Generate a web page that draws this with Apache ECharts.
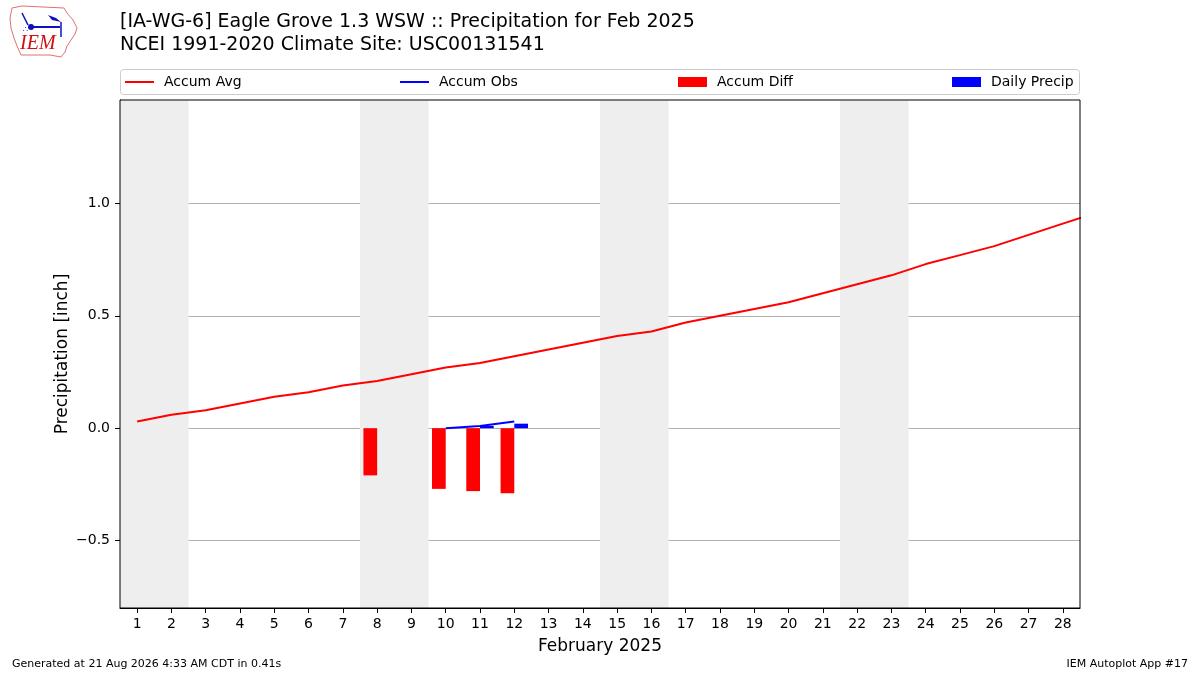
<!DOCTYPE html>
<html>
<head>
<meta charset="utf-8">
<script src="https://cdn.jsdelivr.net/npm/echarts@6/dist/echarts.min.js"></script>
<style>
  html, body { margin: 0; padding: 0; background: #fff; }
  #chart { width: 1200px; height: 675px; }
</style>
</head>
<body>
<div id="chart"></div>
<script>
// day of month, climatology accumulation (day 29 only continues the line past the edge)
const avgDays = [1, 2, 3, 4, 5, 6, 7, 8, 9, 10, 11, 12, 13, 14, 15, 16, 17, 18, 19, 20,
    21, 22, 23, 24, 25, 26, 27, 28, 29];
const accumAvg = [0.03, 0.06, 0.08, 0.11, 0.14, 0.16, 0.19, 0.21, 0.24, 0.27, 0.29, 0.32,
    0.35, 0.38, 0.41, 0.43, 0.47, 0.50, 0.53, 0.56, 0.60, 0.64, 0.68, 0.73, 0.77, 0.81,
    0.86, 0.91, 0.96];

// observed accumulation
const obsDays = [10, 11, 12];
const accumObs = [0.0, 0.01, 0.03];

// departure from average
const diffDays = [8, 10, 11, 12];
const accumDiff = [-0.21, -0.27, -0.28, -0.29];

// daily precip
const precipDays = [11, 12];
const dailyPrecip = [0.01, 0.02];

// weekends
const weekendRanges = [[0.5, 2.5], [7.5, 9.5], [14.5, 16.5], [21.5, 23.5]];

const xTicks = avgDays.slice(0, 28);
const yTicks = [-0.5, 0.0, 0.5, 1.0];

const FONT = 'DejaVu Sans';

function zip(xs, ys) {
    return xs.map((x, i) => [x, ys[i]]);
}

// bars drawn next to the day: side -1 puts it left of the tick, +1 right of it
function barRenderer(side) {
    return function (params, api) {
        const x = api.value(0);
        const y = api.value(1);
        const x0 = side < 0 ? x - 0.4 : x;
        const p0 = api.coord([x0, 0]);
        const p1 = api.coord([x0 + 0.4, y]);
        return {
            type: 'rect',
            shape: {
                x: p0[0],
                y: Math.min(p0[1], p1[1]),
                width: p1[0] - p0[0],
                height: Math.abs(p1[1] - p0[1])
            },
            style: {fill: api.visual('color')}
        };
    };
}

function fmtTick(v) {
    const s = v.toFixed(1);
    return v < 0 ? '\u2212' + s.slice(1) : s;
}

const legendBase = {
    top: 70,
    textStyle: {fontFamily: FONT, fontSize: 14, color: '#000', padding: [0, 0, 0, 5]},
    itemWidth: 29,
    icon: 'rect',
    selectedMode: false
};

const chart = echarts.init(document.getElementById('chart'));

chart.setOption({
    animation: false,
    textStyle: {fontFamily: FONT},
    grid: {
        left: 120, right: 120, top: 100, bottom: 67,
        show: false
    },
    legend: [
        Object.assign({}, legendBase, {left: 120, data: ['Accum Avg'], itemHeight: 2}),
        Object.assign({}, legendBase, {left: 395, data: ['Accum Obs'], itemHeight: 2}),
        Object.assign({}, legendBase, {left: 673, data: ['Accum Diff'], itemHeight: 10}),
        Object.assign({}, legendBase, {left: 947, data: ['Daily Precip'], itemHeight: 10})
    ],
    xAxis: {
        type: 'value',
        min: 0.5,
        max: 28.5,
        name: 'February 2025',
        nameLocation: 'middle',
        nameGap: 30,
        nameTextStyle: {fontSize: 17, color: '#000'},
        axisLine: {show: true, onZero: false, lineStyle: {color: '#000'}},
        axisTick: {show: true, length: 5, lineStyle: {color: '#000'}, customValues: xTicks},
        axisLabel: {color: '#000', fontSize: 14, margin: 9, customValues: xTicks},
        splitLine: {show: false}
    },
    yAxis: {
        type: 'value',
        min: -0.8,
        max: 1.46,
        name: 'Precipitation [inch]',
        nameLocation: 'middle',
        nameGap: 49,
        nameMoveOverlap: false,
        nameTextStyle: {fontSize: 17, color: '#000'},
        axisLine: {show: true, onZero: false, lineStyle: {color: '#000'}},
        axisTick: {show: true, length: 5, lineStyle: {color: '#000'}, customValues: yTicks},
        axisLabel: {color: '#000', fontSize: 14, margin: 10, customValues: yTicks, formatter: fmtTick},
        splitLine: {show: true, lineStyle: {color: '#b0b0b0', width: 1}}
    },
    series: [
        {
            name: 'weekends',
            type: 'line',
            data: [],
            z: -1,
            silent: true,
            markArea: {
                silent: true,
                itemStyle: {color: '#eeeeee'},
                data: weekendRanges.map(r => [{xAxis: r[0]}, {xAxis: r[1]}])
            }
        },
        {
            name: 'Accum Avg',
            type: 'line',
            data: zip(avgDays, accumAvg),
            showSymbol: false,
            clip: true,
            color: '#ff0000',
            lineStyle: {width: 2, color: '#ff0000'},
            z: 3
        },
        {
            name: 'Accum Obs',
            type: 'line',
            data: zip(obsDays, accumObs),
            showSymbol: false,
            color: '#0000ff',
            lineStyle: {width: 2, color: '#0000ff'},
            z: 3
        },
        {
            name: 'Accum Diff',
            type: 'custom',
            renderItem: barRenderer(-1),
            data: zip(diffDays, accumDiff),
            itemStyle: {color: '#ff0000'},
            encode: {x: 0, y: 1},
            z: 2
        },
        {
            name: 'Daily Precip',
            type: 'custom',
            renderItem: barRenderer(1),
            data: zip(precipDays, dailyPrecip),
            itemStyle: {color: '#0000ff'},
            encode: {x: 0, y: 1},
            z: 2
        }
    ],
    graphic: [
        // plot frame
        {
            type: 'rect', z: 100, silent: true,
            shape: {x: 120, y: 100, width: 960, height: 508},
            style: {fill: null, stroke: '#000', lineWidth: 1}
        },
        // legend frame
        {
            type: 'rect', z: -5,
            shape: {x: 120.5, y: 69.5, width: 959, height: 25, r: 3},
            style: {fill: '#fff', stroke: '#cccccc', lineWidth: 1}
        },
        // titles
        {
            type: 'text', left: 120, top: 13,
            style: {text: '[IA-WG-6] Eagle Grove 1.3 WSW :: Precipitation for Feb 2025',
                font: '19px "DejaVu Sans"', fill: '#000'}
        },
        {
            type: 'text', left: 120, top: 36,
            style: {text: 'NCEI 1991-2020 Climate Site: USC00131541',
                font: '19px "DejaVu Sans"', fill: '#000'}
        },
        // footer
        {
            type: 'text', left: 12, top: 659,
            style: {text: 'Generated at 21 Aug 2026 4:33 AM CDT in 0.41s',
                font: '11px "DejaVu Sans"', fill: '#000'}
        },
        {
            type: 'text', right: 12, top: 659,
            style: {text: 'IEM Autoplot App #17', font: '11px "DejaVu Sans"', fill: '#000'}
        },
        // rough IEM logo
        {
            type: 'polyline',
            shape: {points: [[12, 8], [22, 6], [64, 8], [67, 13], [73, 20], [77, 28], [75, 34],
                [71, 40], [67, 46], [65, 52], [61, 57], [50, 55], [21, 55], [17, 46], [14, 38],
                [11, 28], [10, 18], [12, 8]]},
            style: {stroke: '#e07070', lineWidth: 1, fill: null}
        },
        {
            type: 'text', left: 20, top: 34,
            style: {text: 'IEM', font: 'italic 20px "Liberation Serif"', fill: '#d01010'}
        },
        {
            type: 'line', shape: {x1: 31, y1: 27, x2: 60, y2: 27},
            style: {stroke: '#1010c0', lineWidth: 2}
        },
        {
            type: 'circle', shape: {cx: 31, cy: 27, r: 3}, style: {fill: '#1010c0'}
        },
        {
            type: 'line', shape: {x1: 28, y1: 25, x2: 22, y2: 13},
            style: {stroke: '#1010c0', lineWidth: 1.5}
        },
        {
            type: 'polygon', shape: {points: [[48, 15], [56, 18], [61, 22], [52, 20]]},
            style: {fill: '#1010c0'}
        },
        {
            type: 'line', shape: {x1: 61, y1: 22, x2: 61, y2: 37},
            style: {stroke: '#1010c0', lineWidth: 1.5}
        },
        {
            type: 'text', left: 23, top: 26,
            style: {text: '\u2234', font: '8px "DejaVu Sans"', fill: '#1010c0'}
        }
    ]
});
</script>
</body>
</html>
